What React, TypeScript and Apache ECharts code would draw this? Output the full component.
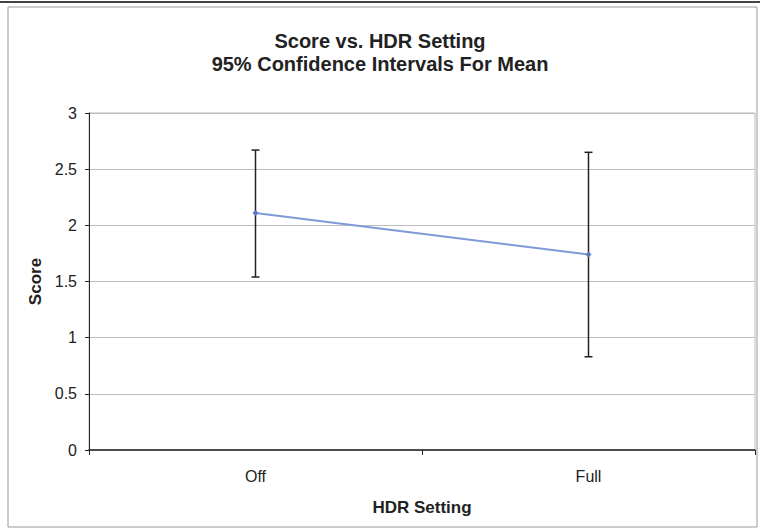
import React, { useEffect, useRef } from "react";
import * as echarts from "echarts";

const categories = ["Off", "Full"];
const means = [2.11, 1.74];
const lower = [1.54, 0.83];
const upper = [2.67, 2.65];
const yTicks = [0, 0.5, 1, 1.5, 2, 2.5, 3];

export default function App() {
  const ref = useRef<HTMLDivElement>(null);
  useEffect(() => {
    if (!ref.current) return;
    const chart = echarts.init(ref.current, undefined, { renderer: "svg" });
    const font = "'Liberation Sans', Arial, sans-serif";
    chart.setOption({
      animation: false,
      backgroundColor: "#ffffff",
      textStyle: { fontFamily: font },
      title: {
        text: "Score vs. HDR Setting\n95% Confidence Intervals For Mean",
        left: "center",
        top: 24,
        textStyle: { fontSize: 20, fontWeight: "bold", color: "#222", lineHeight: 23, fontFamily: font },
      },
      graphic: [
        { type: "rect", shape: { x: 8, y: 7, width: 749, height: 520 }, style: { fill: "none", stroke: "#9a9a9a", lineWidth: 1 }, silent: true },
        { type: "line", shape: { x1: 0, y1: 2, x2: 760, y2: 2 }, style: { stroke: "#444", lineWidth: 2 }, silent: true },
      ],
      grid: { left: 89, right: 5, top: 113, bottom: 81, show: true, borderColor: "#bbbbbb", borderWidth: 1 },
      xAxis: {
        type: "category",
        data: categories,
        boundaryGap: true,
        name: "HDR Setting",
        nameLocation: "middle",
        nameGap: 49,
        nameTextStyle: { fontSize: 17, fontWeight: "bold", color: "#222", fontFamily: font },
        axisLine: { lineStyle: { color: "#222", width: 1.5 } },
        axisTick: { show: true, alignWithLabel: false, length: 5, lineStyle: { color: "#222" } },
        axisLabel: { fontSize: 16, color: "#222", margin: 18, fontFamily: font },
        splitLine: { show: false },
      },
      yAxis: {
        type: "value",
        min: yTicks[0],
        max: yTicks[yTicks.length - 1],
        interval: 0.5,
        name: "Score",
        nameLocation: "middle",
        nameGap: 44,
        nameRotate: 90,
        nameTextStyle: { fontSize: 17, fontWeight: "bold", color: "#222", fontFamily: font },
        axisLine: { show: true, lineStyle: { color: "#222", width: 1 } },
        axisTick: { show: true, length: 4, lineStyle: { color: "#222" } },
        axisLabel: { fontSize: 16, color: "#222", margin: 12, fontFamily: font },
        splitLine: { show: true, lineStyle: { color: "#bdbdbd", width: 1 } },
      },
      series: [
        {
          type: "custom",
          data: categories.map((_, i) => [i, lower[i], upper[i]]),
          renderItem: (params: any, api: any) => {
            const x = api.value(0);
            const lo = api.coord([x, api.value(1)]);
            const hi = api.coord([x, api.value(2)]);
            const w = 4;
            const st = { stroke: "#222", lineWidth: 1.5 };
            return {
              type: "group",
              children: [
                { type: "line", shape: { x1: lo[0], y1: lo[1], x2: hi[0], y2: hi[1] }, style: st },
                { type: "line", shape: { x1: lo[0] - w, y1: lo[1], x2: lo[0] + w, y2: lo[1] }, style: st },
                { type: "line", shape: { x1: hi[0] - w, y1: hi[1], x2: hi[0] + w, y2: hi[1] }, style: st },
              ],
            };
          },
          z: 2,
        },
        {
          type: "line",
          data: means,
          symbol: "diamond",
          symbolSize: 6,
          itemStyle: { color: "#5a78c4" },
          lineStyle: { color: "#7f9ad8", width: 2 },
          z: 3,
        },
      ],
    });
    return () => chart.dispose();
  }, []);
  return <div ref={ref} style={{ width: 760, height: 531, position: "absolute", left: 0, top: 0 }} />;
}
